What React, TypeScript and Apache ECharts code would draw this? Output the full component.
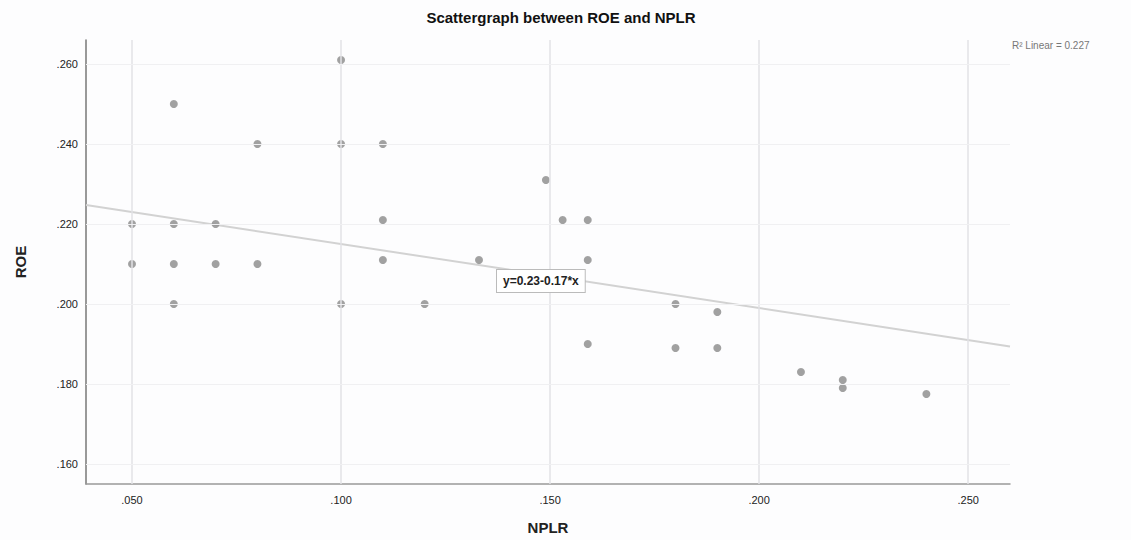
import React, { useEffect, useRef } from "react";
import * as echarts from "echarts";

const nplr = [0.05, 0.05, 0.06, 0.06, 0.06, 0.06, 0.07, 0.07, 0.08, 0.08, 0.1, 0.1, 0.1, 0.11, 0.11, 0.11, 0.12, 0.133, 0.149, 0.153, 0.159, 0.159, 0.159, 0.18, 0.18, 0.19, 0.19, 0.21, 0.22, 0.22, 0.24];
const roe = [0.22, 0.21, 0.25, 0.22, 0.21, 0.2, 0.22, 0.21, 0.24, 0.21, 0.261, 0.24, 0.2, 0.24, 0.221, 0.211, 0.2, 0.211, 0.231, 0.221, 0.221, 0.211, 0.19, 0.2, 0.189, 0.198, 0.189, 0.183, 0.181, 0.179, 0.1775];
const xTicks = [0.05, 0.1, 0.15, 0.2, 0.25];
const yTicks = [0.16, 0.18, 0.2, 0.22, 0.24, 0.26];
const xRange = [0.039, 0.26];
const yRange = [0.155, 0.266];
const fitIntercept = 0.231;
const fitSlope = -0.16;
const fitLabel = "y=0.23-0.17*x";
const r2Label = "R² Linear = 0.227";

const fmt = (v: number) => v.toFixed(3).replace(/^0/, "");

export default function App() {
  const ref = useRef<HTMLDivElement>(null);
  useEffect(() => {
    document.body.style.margin = "0";
    const chart = echarts.init(ref.current!, null, { renderer: "svg" });
    const pts = nplr.map((x, i) => [x, roe[i]]);
    const fit = xRange.map((x) => [x, fitIntercept + fitSlope * x]);
    chart.setOption({
      animation: false,
      backgroundColor: "#fdfdfe",
      textStyle: { fontFamily: "Liberation Sans" },
      title: {
        text: "Scattergraph between ROE and NPLR",
        left: 556,
        top: 5,
        textAlign: "center",
        textStyle: { fontSize: 15, fontWeight: "bold", color: "#111", fontFamily: "Liberation Sans" },
      },
      grid: { left: 86, right: 121, top: 40, bottom: 48 },
      xAxis: {
        type: "value",
        min: xRange[0],
        max: xRange[1],
        name: "NPLR",
        nameLocation: "middle",
        nameGap: 36,
        nameTextStyle: { fontSize: 15, fontWeight: "bold", color: "#222" },
        axisLine: { show: true, lineStyle: { color: "#999", width: 1.5 } },
        axisTick: { show: false },
        splitLine: { show: false },
        axisLabel: { customValues: xTicks, formatter: fmt, fontSize: 11, color: "#222", margin: 10 },
      },
      yAxis: {
        type: "value",
        min: yRange[0],
        max: yRange[1],
        name: "ROE",
        nameLocation: "middle",
        nameGap: 58,
        nameRotate: 90,
        nameTextStyle: { fontSize: 15, fontWeight: "bold", color: "#222" },
        axisLine: { show: true, lineStyle: { color: "#777", width: 1.5 } },
        axisTick: { show: false },
        splitLine: { show: false },
        axisLabel: { customValues: yTicks, formatter: fmt, fontSize: 11, color: "#222", margin: 8 },
      },
      series: [
        {
          type: "scatter",
          data: pts,
          symbolSize: 8,
          itemStyle: { color: "#8a8a8a" },
          silent: true,
          markLine: {
            silent: true,
            symbol: "none",
            label: { show: false },
            lineStyle: { type: "solid", color: "#e2e2e6", width: 1.5 },
            data: [
              ...xTicks.map((v) => ({ xAxis: v })),
              ...yTicks.map((v) => ({ yAxis: v, lineStyle: { color: "#f0f0f2", width: 1 } })),
            ],
          },
          z: 3,
        },
        {
          type: "line",
          data: fit,
          symbol: "none",
          lineStyle: { color: "#d2d2d2", width: 2 },
          silent: true,
          z: 2,
        },
      ],
      graphic: [
        {
          type: "text",
          left: 496,
          top: 269,
          style: {
            text: fitLabel,
            fontSize: 12,
            fontWeight: "bold",
            fontFamily: "Liberation Sans",
            fill: "#222",
            backgroundColor: "#fff",
            borderColor: "#bbb",
            borderWidth: 1,
            padding: [5, 6],
          },
          z: 10,
        },
        {
          type: "text",
          left: 1012,
          top: 40,
          style: { text: r2Label, fontSize: 10, fontFamily: "Liberation Sans", fill: "#777" },
        },
      ],
    });
    return () => chart.dispose();
  }, []);
  return <div ref={ref} style={{ width: 1131, height: 540 }} />;
}
